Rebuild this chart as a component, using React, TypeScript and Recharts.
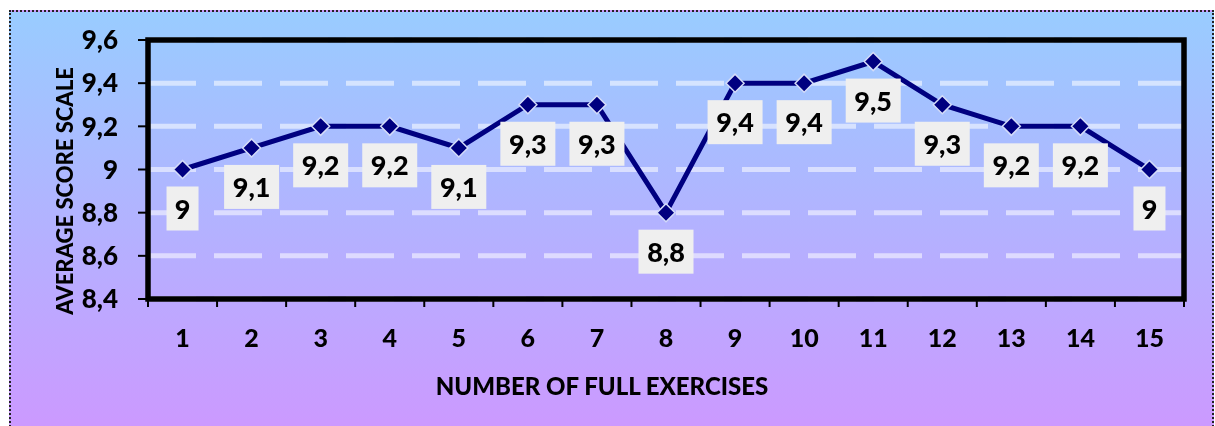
import React from "react";
import {
  LineChart,
  Line,
  XAxis,
  YAxis,
  CartesianGrid,
  ReferenceArea,
  LabelList,
} from "recharts";

const categories = [1, 2, 3, 4, 5, 6, 7, 8, 9, 10, 11, 12, 13, 14, 15];
const scores = [9, 9.1, 9.2, 9.2, 9.1, 9.3, 9.3, 8.8, 9.4, 9.4, 9.5, 9.3, 9.2, 9.2, 9];
const yTicks = [8.4, 8.6, 8.8, 9, 9.2, 9.4, 9.6];
const yDomain = [8.4, 9.6];
const xDomain = [0.5, 15.5];
const yTitle = "AVERAGE SCORE SCALE";
const xTitle = "NUMBER OF FULL EXERCISES";

const data = categories.map((c, i) => ({ x: c, y: scores[i] }));

const W = 1215;
const H = 426;
const MARGIN = { top: 40, right: 31, left: 48, bottom: 67 };
const Y_AXIS_W = 100;
const PLOT_W = W - MARGIN.left - MARGIN.right - Y_AXIS_W;
const FONT = "Lato, 'Open Sans', sans-serif";
const NAVY = "#000080";

const fmt = (v: number) => String(v).replace(".", ",");

function XTick(props: any) {
  const { x, y, payload, index } = props;
  const hb = PLOT_W / categories.length / 2;
  const last = index === categories.length - 1;
  return (
    <g>
      <line x1={x - hb} x2={x - hb} y1={y} y2={y + 8} stroke="#000" strokeWidth={2} />
      {last && <line x1={x + hb} x2={x + hb} y1={y} y2={y + 8} stroke="#000" strokeWidth={2} />}
      <text
        x={x}
        y={y + 48}
        textAnchor="middle"
        fontFamily={FONT}
        fontWeight={900}
        fontSize={25}
        fill="#000"
      >
        {payload.value}
      </text>
    </g>
  );
}

function Diamond(props: any) {
  const { cx, cy, index } = props;
  if (cx == null || cy == null) return <g key={index} />;
  const r = 9;
  return (
    <polygon
      key={index}
      points={`${cx},${cy - r} ${cx + r},${cy} ${cx},${cy + r} ${cx - r},${cy}`}
      fill={NAVY}
      stroke="#d4dcf8"
      strokeWidth={1.5}
    />
  );
}

function BoxLabel(props: any) {
  const { x, y, value } = props;
  const txt = fmt(value);
  const w = txt.length === 1 ? 32 : 55;
  const h = 44;
  const cy = y + 39;
  return (
    <g>
      <rect x={x - w / 2} y={cy - h / 2} width={w} height={h} fill="#EFEFEF" />
      <text
        x={x}
        y={cy + 10}
        textAnchor="middle"
        fontFamily={FONT}
        fontWeight={900}
        fontSize={27}
        fill="#000"
      >
        {txt}
      </text>
    </g>
  );
}

export default function App() {
  return (
    <div style={{ position: "fixed", left: 0, top: 0, width: W, height: H, overflow: "hidden" }}>
      <div
        style={{
          position: "absolute",
          left: 9,
          top: 10,
          width: 1205,
          height: 420,
          boxSizing: "border-box",
          borderTop: "2px dotted #222",
          borderLeft: "2px dotted #222",
          borderRight: "2px dotted #222",
          background: "linear-gradient(to bottom, #99CCFF 0%, #CC99FF 100%)",
        }}
      />
      <LineChart
        width={W}
        height={H}
        data={data}
        margin={MARGIN}
        style={{ position: "absolute", left: 0, top: 0 }}
      >
        <CartesianGrid
          horizontal={true}
          vertical={false}
          stroke="#FFFFFF"
          strokeOpacity={0.55}
          strokeWidth={5}
          strokeDasharray="48 18"
        />
        <XAxis
          dataKey="x"
          type="number"
          domain={xDomain}
          ticks={categories}
          interval={0}
          tickLine={false}
          axisLine={false}
          tickSize={0}
          tickMargin={0}
          height={60}
          tick={<XTick />}
          label={{
            content: () => (
              <text
                x={602}
                y={395}
                textAnchor="middle"
                fontFamily={FONT}
                fontWeight={900}
                fontSize={24}
                fill="#000"
              >
                {xTitle}
              </text>
            ),
          }}
        />
        <YAxis
          type="number"
          domain={yDomain}
          ticks={yTicks}
          interval={0}
          width={Y_AXIS_W}
          axisLine={false}
          tickLine={{ stroke: "#000", strokeWidth: 2 }}
          tickSize={10}
          tickMargin={20}
          tickFormatter={fmt}
          tick={{ fontFamily: FONT, fontWeight: 900, fontSize: 26, fill: "#000" }}
          label={{
            content: () => (
              <text
                x={73}
                y={191}
                transform="rotate(-90 73 191)"
                textAnchor="middle"
                fontFamily={FONT}
                fontWeight={900}
                fontSize={22}
                fill="#000"
              >
                {yTitle}
              </text>
            ),
          }}
        />
        <ReferenceArea
          x1={xDomain[0]}
          x2={xDomain[1]}
          y1={yDomain[0]}
          y2={yDomain[1]}
          fill="none"
          fillOpacity={0}
          stroke="#000"
          strokeWidth={5.5}
          strokeOpacity={1}
        />
        <Line
          type="linear"
          dataKey="y"
          stroke={NAVY}
          strokeWidth={5}
          dot={<Diamond />}
          activeDot={false}
          isAnimationActive={false}
        >
          <LabelList dataKey="y" content={<BoxLabel />} />
        </Line>
      </LineChart>
    </div>
  );
}
